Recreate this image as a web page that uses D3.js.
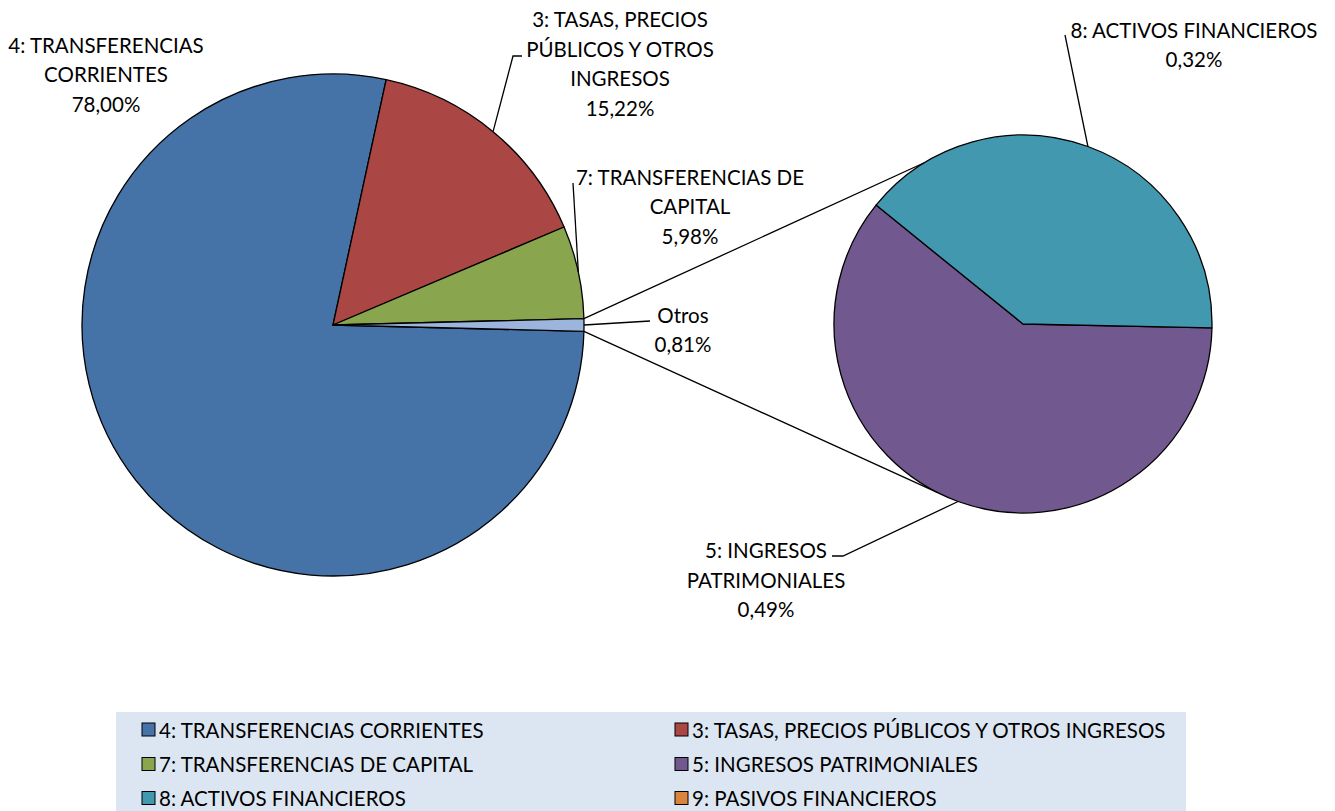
<!DOCTYPE html>
<meta charset="utf-8">

<!-- Load d3.js -->
<script src="https://d3js.org/d3.v7.min.js"></script>

<style>
  body { margin: 0; background: #fff; }
  text { font-family: Lato, "Open Sans", sans-serif; fill: #000; }
</style>

<!-- Create a div where the graph will take place -->
<div id="my_dataviz"></div>

<script>

  // data: categories, shares (%) and the wrapped label text
  var categories = ["4: TRANSFERENCIAS CORRIENTES", "3: TASAS, PRECIOS PÚBLICOS Y OTROS INGRESOS",
                    "7: TRANSFERENCIAS DE CAPITAL", "5: INGRESOS PATRIMONIALES",
                    "8: ACTIVOS FINANCIEROS", "9: PASIVOS FINANCIEROS"]
  var values = [78.00, 15.22, 5.98, 0.49, 0.32, 0.00]
  var colors = ["#4572a7", "#aa4643", "#89a54e", "#71588f", "#4198af", "#db843d"]
  var labelLines = [["4: TRANSFERENCIAS", "CORRIENTES"],
                    ["3: TASAS, PRECIOS", "PÚBLICOS Y OTROS", "INGRESOS"],
                    ["7: TRANSFERENCIAS DE", "CAPITAL"],
                    ["5: INGRESOS", "PATRIMONIALES"],
                    ["8: ACTIVOS FINANCIEROS"],
                    ["9: PASIVOS FINANCIEROS"]]
  var otherName = "Otros"
  var otherColor = "#9cb5dc"
  var splitAt = 3   // the last 3 categories go to the second pie

  var width = 1335, height = 811
  var fontSize = "20.5px"

  var svg = d3.select("#my_dataviz")
    .append("svg")
      .attr("width", width)
      .attr("height", height)

  var fmt = function(v){ return d3.format(".2f")(v).replace(".", ",") + "%" }

  // main pie data: first categories + "Otros"
  var rows = categories.map(function(c, i){ return {name: c, value: values[i], color: colors[i], lines: labelLines[i], idx: i} })
  var mainRows = rows.slice(0, splitAt)
  var subRows = rows.slice(splitAt)
  var otherValue = d3.sum(subRows, function(d){ return d.value })
  mainRows.push({name: otherName, value: otherValue, color: otherColor, lines: [otherName], idx: -1})
  var total = d3.sum(mainRows, function(d){ return d.value })

  var main = {cx: 333, cy: 325, r: 251}
  var sub = {cx: 1023, cy: 324, r: 189}

  // "Otros" slice centred at 3 o'clock
  var a0 = Math.PI / 2 + Math.PI * otherValue / total
  var mainPie = d3.pie().sort(null).value(function(d){ return d.value })
    .startAngle(a0).endAngle(a0 + 2 * Math.PI)
  var mainArcs = mainPie(mainRows)

  var b0 = 91.2 * Math.PI / 180
  var subPie = d3.pie().sort(null).value(function(d){ return d.value })
    .startAngle(b0).endAngle(b0 + 2 * Math.PI)
  var subArcs = subPie(subRows).filter(function(d){ return d.data.value > 0 })

  function pt(c, a, r) { return [c.cx + r * Math.sin(a), c.cy - r * Math.cos(a)] }

  // connector lines between the "Otros" slice and the second pie
  var oth = mainArcs[mainArcs.length - 1]
  var conn = [[pt(main, oth.startAngle, main.r), pt(sub, 328.7 * Math.PI / 180, sub.r)],
              [pt(main, oth.endAngle, main.r), pt(sub, 207 * Math.PI / 180, sub.r)]]
  svg.selectAll("conn")
    .data(conn)
    .enter()
    .append("line")
      .attr("x1", function(d){ return d[0][0] })
      .attr("y1", function(d){ return d[0][1] })
      .attr("x2", function(d){ return d[1][0] })
      .attr("y2", function(d){ return d[1][1] })
      .attr("stroke", "#000")
      .attr("stroke-width", 1.3)

  var arcMain = d3.arc().innerRadius(0).outerRadius(main.r)
  var arcSub = d3.arc().innerRadius(0).outerRadius(sub.r)

  svg.append("g")
    .attr("transform", "translate(" + main.cx + "," + main.cy + ")")
    .selectAll("path")
    .data(mainArcs)
    .enter()
    .append("path")
      .attr("d", arcMain)
      .attr("fill", function(d){ return d.data.color })
      .attr("stroke", "#000")
      .attr("stroke-width", 1.3)
      .attr("stroke-linejoin", "round")

  svg.append("g")
    .attr("transform", "translate(" + sub.cx + "," + sub.cy + ")")
    .selectAll("path")
    .data(subArcs)
    .enter()
    .append("path")
      .attr("d", arcSub)
      .attr("fill", function(d){ return d.data.color })
      .attr("stroke", "#000")
      .attr("stroke-width", 1.3)
      .attr("stroke-linejoin", "round")

  // label placement (centre of first text line) and leader line bends
  var lineH = 29.5
  var labelPos = {}
  labelPos[categories[0]] = {x: 106, y: 44.5, leader: null}
  labelPos[categories[1]] = {x: 620, y: 19, leader: [[513, 56], [522, 56]]}
  labelPos[categories[2]] = {x: 690, y: 176.5, leader: [[573, 183]]}
  labelPos[otherName] = {x: 683, y: 314.5, leader: [[650, 321]]}
  labelPos[categories[3]] = {x: 766, y: 550, leader: [[843, 556], [832, 556]]}
  labelPos[categories[4]] = {x: 1194, y: 29.5, leader: [[1065, 35]]}

  var labels = mainArcs.map(function(d){ return {arc: d, c: main} })
    .concat(subArcs.map(function(d){ return {arc: d, c: sub} }))

  labels.forEach(function(l) {
    var p = labelPos[l.arc.data.name]
    if (!p) return
    var mid = (l.arc.startAngle + l.arc.endAngle) / 2
    if (p.leader) {
      var pts = [pt(l.c, mid, l.c.r)].concat(p.leader)
      svg.append("path")
        .attr("d", d3.line()(pts))
        .attr("fill", "none")
        .attr("stroke", "#000")
        .attr("stroke-width", 1.3)
    }
    var lines = l.arc.data.lines.concat([fmt(l.arc.data.value)])
    svg.append("text")
      .attr("text-anchor", "middle")
      .style("font-size", fontSize)
      .selectAll("tspan")
      .data(lines)
      .enter()
      .append("tspan")
        .attr("x", p.x)
        .attr("y", function(d, i){ return p.y + i * lineH })
        .attr("dominant-baseline", "central")
        .text(function(d){ return d })
  })

  // legend
  var leg = svg.append("g")
  leg.append("rect")
    .attr("x", 116).attr("y", 712)
    .attr("width", 1070).attr("height", 110)
    .attr("fill", "#dce6f2")

  var colX = [142, 675], rowY = [729.5, 764, 798]
  var items = leg.selectAll("legitem")
    .data(rows)
    .enter()
    .append("g")
      .attr("transform", function(d, i){ return "translate(" + colX[i % 2] + "," + rowY[Math.floor(i / 2)] + ")" })
  items.append("rect")
    .attr("x", 0).attr("y", -6.5)
    .attr("width", 13).attr("height", 13)
    .attr("fill", function(d){ return d.color })
    .attr("stroke", "#000")
    .attr("stroke-width", 1)
  items.append("text")
    .attr("x", 17)
    .attr("y", 0)
    .attr("dominant-baseline", "central")
    .style("font-size", fontSize)
    .text(function(d){ return d.name })

</script>
